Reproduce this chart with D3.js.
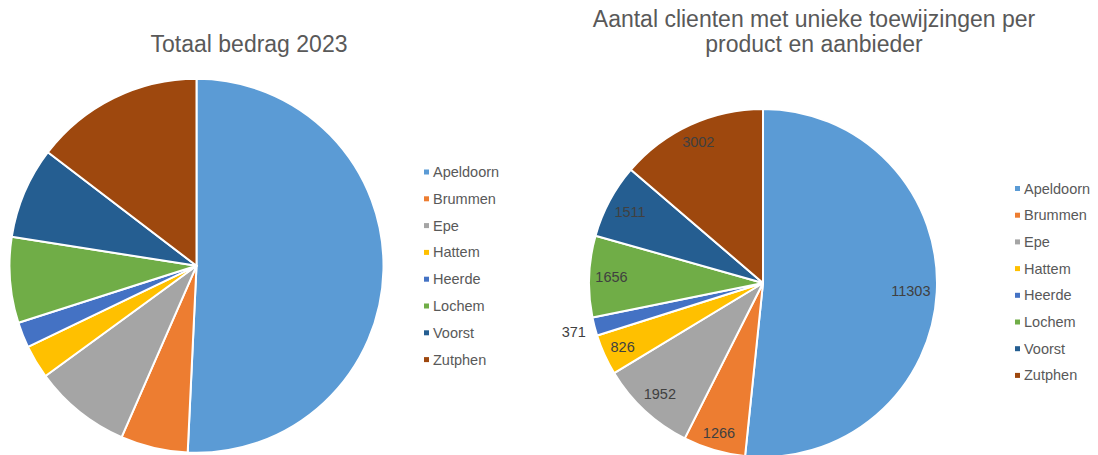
<!DOCTYPE html>
<html>
<head>
<meta charset="utf-8">
<script src="https://cdn.jsdelivr.net/npm/d3@7"></script>
<style>
  body { margin: 0; background: #fff; }
  svg { display: block; font-family: "Liberation Sans", Arial, sans-serif; }
</style>
</head>
<body>
<div id="chart"></div>
<script>
// gemeenten
var gemeenten = ["Apeldoorn", "Brummen", "Epe", "Hattem", "Heerde", "Lochem", "Voorst", "Zutphen"];
var bedrag2023 = [50.7, 5.8, 8.4, 2.9, 2.2, 7.4, 7.9, 14.6];
// aantal clienten
var clienten = [11303, 1266, 1952, 826, 371, 1656, 1511, 3002];
var kleuren = ["#5B9BD5", "#ED7D31", "#A5A5A5", "#FFC000", "#4472C4", "#70AD47", "#255E91", "#9E480E"];

var width = 1098, height = 455;

var svg = d3.select("#chart").append("svg")
    .attr("width", width)
    .attr("height", height);

var color = d3.scaleOrdinal().domain(gemeenten).range(kleuren);

var pie = d3.pie().sort(null).value(function(d) { return d.v; });

function drawPie(values, cx, cy, r, labels) {
  var data = gemeenten.map(function(g, i) { return {name: g, v: values[i]}; });
  var arcs = pie(data);
  var arc = d3.arc().innerRadius(0).outerRadius(r);

  var g = svg.append("g").attr("transform", "translate(" + cx + "," + cy + ")");
  g.selectAll("path")
    .data(arcs)
    .enter()
    .append("path")
    .attr("d", arc)
    .attr("fill", function(d) { return color(d.data.name); })
    .attr("stroke", "#fff")
    .attr("stroke-width", 2)
    .attr("stroke-linejoin", "round");

  if (!labels) return;

  // labels binnen de rand, kleine taartpunten erbuiten
  g.selectAll("text")
    .data(arcs)
    .enter()
    .append("text")
    .attr("text-anchor", "middle")
    .attr("dominant-baseline", "central")
    .attr("font-size", "14.5px")
    .attr("fill", "#404040")
    .text(function(d) { return d.data.v; })
    .each(function(d) {
      var w = this.getComputedTextLength(), h = 14;
      var mid = (d.startAngle + d.endAngle) / 2;
      var ux = Math.sin(mid), uy = -Math.cos(mid);
      var ext = Math.abs(ux) * w / 2 + Math.abs(uy) * h / 2;
      var small = (d.endAngle - d.startAngle) < 10 * Math.PI / 180;
      var dist = small ? r + 8 + ext : r - 6 - ext;
      d3.select(this).attr("x", ux * dist).attr("y", uy * dist);
    });
}

function drawLegend(x, y, step) {
  var lg = svg.append("g").attr("transform", "translate(" + x + "," + y + ")");
  var items = lg.selectAll("g")
    .data(gemeenten)
    .enter()
    .append("g")
    .attr("transform", function(d, i) { return "translate(0," + (i * step) + ")"; });
  items.append("rect")
    .attr("x", 0).attr("y", -2.5)
    .attr("width", 5).attr("height", 5)
    .attr("fill", function(d) { return color(d); });
  items.append("text")
    .attr("x", 9)
    .attr("dominant-baseline", "central")
    .attr("font-size", "14.5px")
    .attr("fill", "#595959")
    .text(function(d) { return d; });
}

// titels
svg.append("text")
  .attr("x", 249).attr("y", 52)
  .attr("text-anchor", "middle")
  .attr("font-size", "23px")
  .attr("fill", "#595959")
  .text("Totaal bedrag 2023");

svg.append("text")
  .attr("x", 814).attr("y", 27)
  .attr("text-anchor", "middle")
  .attr("font-size", "23px")
  .attr("fill", "#595959")
  .text("Aantal clienten met unieke toewijzingen per");
svg.append("text")
  .attr("x", 814).attr("y", 52)
  .attr("text-anchor", "middle")
  .attr("font-size", "23px")
  .attr("fill", "#595959")
  .text("product en aanbieder");

drawPie(bedrag2023, 196.5, 265.8, 187, false);
drawPie(clienten, 763, 283, 174, true);

drawLegend(424, 172, 26.8);
drawLegend(1015, 188.5, 26.7);
</script>
</body>
</html>
